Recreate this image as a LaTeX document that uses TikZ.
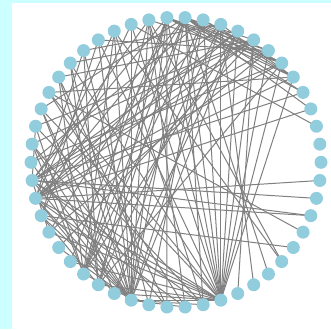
\documentclass[tikz,border=0pt]{standalone}
\pgfdeclarelayer{bg}
\pgfdeclarelayer{edges}
\pgfsetlayers{bg,edges,main}
\definecolor{bgcyan}{RGB}{204,255,255}
\definecolor{nodeblue}{RGB}{146,205,222}
\definecolor{edgegray}{RGB}{128,128,128}
\begin{document}
\begin{tikzpicture}[x=1pt,y=-1pt,
  vertex/.style={circle,fill=nodeblue,draw=none,minimum size=13pt,inner sep=0pt},
  link/.style={draw=edgegray,line width=1pt}]
\useasboundingbox (0,0) rectangle (331,329);
\begin{pgfonlayer}{bg}
\fill[bgcyan] (0,0) rectangle (331,329);
\fill[white] (12,3) rectangle (331,329);
\end{pgfonlayer}
\foreach \k in {0,...,49}
  \node[vertex] (n\k) at ({176+145*cos(7.2*\k)},{162.3-145*sin(7.2*\k)}) {};
\begin{pgfonlayer}{edges}
\foreach \a/\b in {12/3,12/4,12/5,12/6,12/7,12/8,13/4,13/5,13/6,13/7,11/5,11/6,10/5,14/6,
  12/32,12/35,12/43,12/27,12/39,12/22,12/29,12/40,12/33,
  13/35,13/40,13/26,13/31,13/37,13/33,
  11/32,11/40,11/36,11/25,11/34,
  10/40,10/42,10/27,10/33,10/18,10/35,
  9/19,9/32,9/40,9/26,9/34,9/35,9/27,
  8/40,8/41,8/27,8/20,8/24,8/30,8/23,8/26,
  7/40,7/26,7/17,7/29,
  6/40,6/25,6/33,6/27,
  5/40,5/27,5/21,
  4/26,3/27,2/15,
  14/32,14/35,14/44,14/26,14/38,14/40,
  15/35,15/28,15/40,
  16/32,16/35,16/27,16/39,16/44,
  17/35,17/28,17/40,
  18/27,18/36,18/33,
  19/35,19/33,19/40,
  20/35,20/37,20/32,
  21/46,21/38,21/40,
  22/34,22/40,22/35,
  23/26,23/39,23/32,
  24/37,24/32,24/35,
  25/35,
  26/48,26/47,26/29,26/35,26/40,26/39,
  27/49,27/47,27/35,27/40,27/34,27/38,
  28/45,28/35,28/33,28/40,
  29/40,30/35,31/40,32/36,32/13,33/40,34/40,
  35/38,35/39,35/40}
  \draw[link] (n\a.center) -- (n\b.center);
\end{pgfonlayer}
\end{tikzpicture}
\end{document}
